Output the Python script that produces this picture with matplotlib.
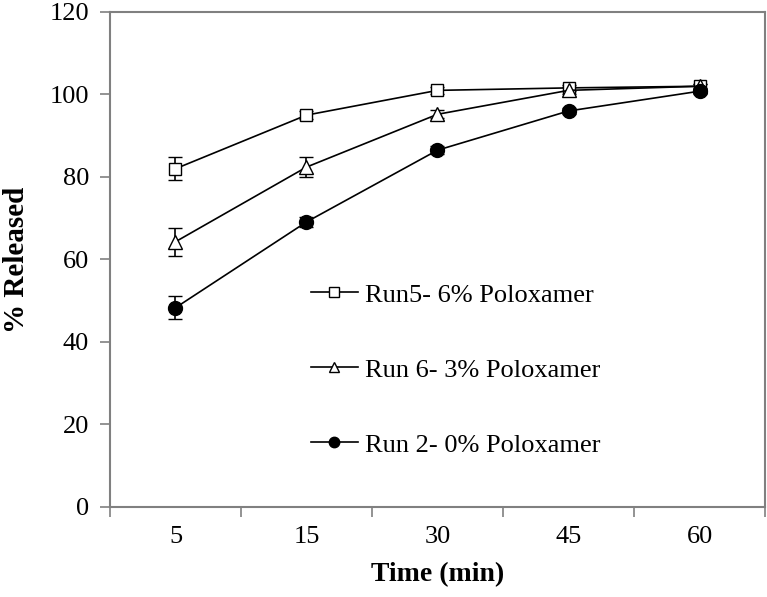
import matplotlib.pyplot as plt

plt.rcParams["font.family"] = ["Liberation Serif", "DejaVu Serif"]

times = ["5", "15", "30", "45", "60"]

run5 = [82.0, 95.0, 101.0, 101.6, 102.0]
run5_err = [2.8, 1.0, 0.8, 0.8, 0.6]

run6 = [64.3, 82.4, 95.2, 101.0, 102.0]
run6_err = [3.4, 2.4, 1.0, 0.8, 0.6]

run2 = [48.3, 69.1, 86.5, 96.0, 100.8]
run2_err = [2.8, 1.2, 1.0, 0.8, 0.8]

fig = plt.figure(figsize=(7.67, 5.97), dpi=100)
ax = fig.add_axes([0.1434, 0.1508, 0.854, 0.8291])

x = list(range(len(times)))
ax.errorbar(x, run5, yerr=run5_err, color="black", marker="s", markersize=9,
            markerfacecolor="white", markeredgecolor="black", linewidth=1.2,
            elinewidth=1.2, capsize=5, label="Run5- 6% Poloxamer")
ax.errorbar(x, run6, yerr=run6_err, color="black", marker="^", markersize=10,
            markerfacecolor="white", markeredgecolor="black", linewidth=1.2,
            elinewidth=1.2, capsize=5, label="Run 6- 3% Poloxamer")
ax.errorbar(x, run2, yerr=run2_err, color="black", marker="o", markersize=10,
            markerfacecolor="black", markeredgecolor="black", linewidth=1.2,
            elinewidth=1.2, capsize=5, label="Run 2- 0% Poloxamer")

ax.set_xlim(-0.5, len(times) - 0.5)
ax.set_ylim(0, 120)
ax.set_yticks(range(0, 121, 20))
ax.set_xticks([i - 0.5 for i in range(len(times) + 1)])
ax.set_xticklabels([])
ax.set_xticks(x, minor=True)
ax.set_xticklabels(times, minor=True)
ax.tick_params(axis="x", which="major", direction="out", length=7, width=1.2, color="#808080")
ax.tick_params(axis="x", which="minor", length=0, pad=14, labelsize=19)
ax.tick_params(axis="y", direction="out", length=7, width=1.2, color="#808080", labelsize=19, pad=8)

for s in ax.spines.values():
    s.set_color("#808080")
    s.set_linewidth(1.5)

ax.set_xlabel("Time (min)", fontsize=20, fontweight="bold", labelpad=10)
ax.set_ylabel("% Released", fontsize=21, fontweight="bold", labelpad=14)

handles, labels = ax.get_legend_handles_labels()
handles = [h[0] for h in handles]
leg = ax.legend(handles, labels, loc="upper left", bbox_to_anchor=(0.27, 0.50),
                frameon=False, fontsize=19, labelspacing=1.95, handlelength=1.8,
                handletextpad=0.25, markerscale=0.75)

fig.savefig("out.png", dpi=100)
